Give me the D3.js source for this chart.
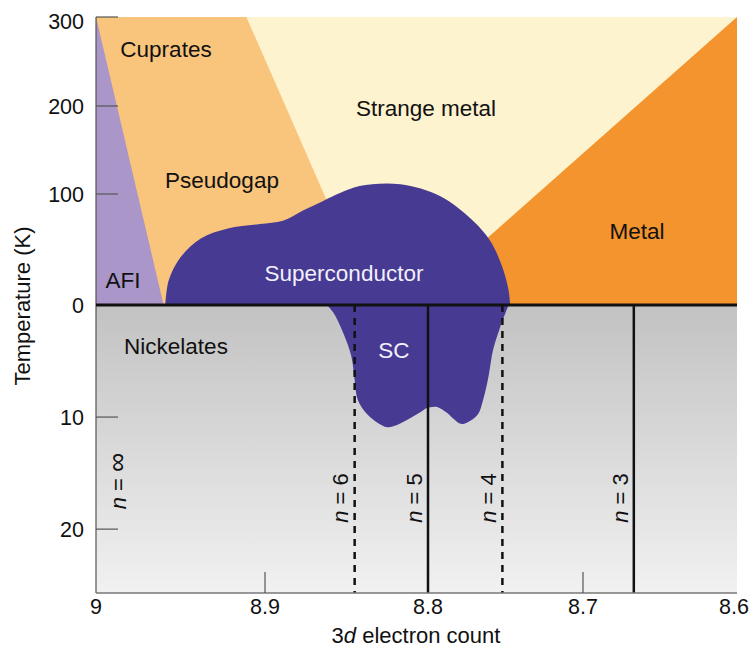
<!DOCTYPE html>
<html>
<head>
<meta charset="utf-8">
<script src="https://cdn.jsdelivr.net/npm/d3@7"></script>
<style>
  html, body { margin: 0; padding: 0; background: #fff; }
  svg { display: block; font-family: "Liberation Sans", Arial, Helvetica, sans-serif; }
</style>
</head>
<body>
<svg id="chart" width="750" height="657"></svg>
<script>
// ---- data ----
// 3d electron count ticks (axis runs from 9 on the left to 8.6 on the right)
const electronTicks = [9, 8.9, 8.8, 8.7, 8.6];
// Temperature ticks: cuprates above the zero line, nickelates below it
const cuprateTempTicks = [0, 100, 200, 300];
const nickelateTempTicks = [10, 20];

// Cuprate phase boundaries [electron count, T (K)]
const afiBoundary = [[9, 300], [8.960, 0]];
const pseudogapBoundary = [[8.911, 300], [8.834, 0]];
const metalBoundary = [[8.6, 300], [8.810, 0]];

// Cuprate superconducting dome outline [electron count, Tc (K)]
const cuprateDome = [
  [8.959, 0], [8.957, 22], [8.950, 43], [8.938, 60], [8.922, 69], [8.903, 73],
  [8.889, 76], [8.877, 85], [8.864, 94], [8.854, 101], [8.842, 109], [8.817, 111],
  [8.792, 98], [8.771, 76], [8.760, 58], [8.752, 34], [8.748, 13], [8.747, 0]
];

// Nickelate superconducting region outline [electron count, Tc (K)]
const nickelateSC = [
  [8.748, 0], [8.7535, 2.0], [8.758, 4.0], [8.761, 6.4], [8.7645, 8.5], [8.768, 9.8],
  [8.775, 10.5], [8.779, 10.6], [8.784, 10.1], [8.788, 9.6], [8.794, 9.1], [8.797, 9.1],
  [8.8006, 9.2], [8.805, 9.6], [8.811, 10.1], [8.819, 10.7], [8.825, 10.9], [8.831, 10.5],
  [8.837, 9.8], [8.843, 8.5], [8.845, 6.7], [8.847, 4.6], [8.852, 2.5], [8.858, 0.7],
  [8.862, 0]
];

// Ruddlesden-Popper layer number n and its electron count
const layerNames = ["\u221E", "6", "5", "4", "3"];
const layerCounts = [9, 8.845, 8.8, 8.752, 8.667];
const layerDashed = [false, true, false, true, false];

// ---- layout ----
const svg = d3.select("#chart");
const plotLeft = 96, plotRight = 737, plotTop = 17, zeroY = 305, plotBottom = 593;
const nickMax = 25.7;

const x = d3.scaleLinear().domain(electronTicks).range([plotLeft, 265, 428, 583, plotRight]);
const yUp = d3.scaleLinear().domain(cuprateTempTicks).range([zeroY, 194, 106, plotTop]);
const yDown = d3.scaleLinear().domain([0, nickMax]).range([zeroY, plotBottom]);

const colors = {
  afi: "#aa96c8",
  pseudogap: "#f9c47c",
  strange: "#fdf3cf",
  metal: "#f4942e",
  sc: "#463a93"
};

// gradient for the nickelate half
const defs = svg.append("defs");
const grad = defs.append("linearGradient").attr("id", "nickGrad")
  .attr("x1", 0).attr("y1", 0).attr("x2", 0).attr("y2", 1);
grad.append("stop").attr("offset", "0%").attr("stop-color", "#c2c2c2");
grad.append("stop").attr("offset", "100%").attr("stop-color", "#f1f1f1");

// ---- cuprate half ----
svg.append("rect")
  .attr("x", x(9)).attr("y", yUp(300))
  .attr("width", x(8.6) - x(9)).attr("height", yUp(0) - yUp(300))
  .attr("fill", colors.strange);

const poly = pts => "M" + pts.map(([a, t]) => [x(a), yUp(t)].join(",")).join("L") + "Z";

// pseudogap / cuprates wedge
svg.append("path")
  .attr("d", poly([[9, 300], pseudogapBoundary[0], pseudogapBoundary[1], [9, 0]]))
  .attr("fill", colors.pseudogap);
// antiferromagnetic insulator
svg.append("path")
  .attr("d", poly([afiBoundary[0], afiBoundary[1], [9, 0]]))
  .attr("fill", colors.afi);
// metal
svg.append("path")
  .attr("d", poly([metalBoundary[0], [8.6, 0], metalBoundary[1]]))
  .attr("fill", colors.metal);

// ---- nickelate half ----
svg.append("rect")
  .attr("x", x(9)).attr("y", yDown(0))
  .attr("width", x(8.6) - x(9)).attr("height", yDown(nickMax) - yDown(0))
  .attr("fill", "url(#nickGrad)");

// superconducting regions
const domeLine = d3.line().x(d => x(d[0])).y(d => yUp(d[1])).curve(d3.curveCatmullRom.alpha(0.5));
const nickLine = d3.line().x(d => x(d[0])).y(d => yDown(d[1])).curve(d3.curveCatmullRom.alpha(0.5));
svg.append("path").attr("d", domeLine(cuprateDome) + "Z").attr("fill", colors.sc);
svg.append("path").attr("d", nickLine(nickelateSC) + "Z").attr("fill", colors.sc);

// n lines
layerCounts.forEach((c, i) => {
  if (c === 9) return;
  svg.append("line")
    .attr("x1", x(c)).attr("x2", x(c))
    .attr("y1", yDown(0)).attr("y2", yDown(nickMax))
    .attr("stroke", "#111").attr("stroke-width", 2.5)
    .attr("stroke-dasharray", layerDashed[i] ? "7,6" : null);
});

// n labels
layerCounts.forEach((c, i) => {
  const lx = c === 9 ? x(c) + 22 : x(c) - 14;
  const ly = c === 9 ? 481 : 498;
  const t = svg.append("text")
    .attr("transform", `translate(${lx},${ly}) rotate(-90)`)
    .attr("text-anchor", "middle").attr("dy", "0.35em")
    .attr("font-size", 22).attr("fill", "#111");
  t.append("tspan").attr("font-style", "italic").text("n");
  t.append("tspan").text(" = ");
  t.append("tspan").attr("font-size", c === 9 ? 27 : 22).text(layerNames[i]);
});

// ---- axes ----
svg.append("line").attr("x1", plotLeft).attr("x2", plotLeft).attr("y1", plotTop).attr("y2", plotBottom)
  .attr("stroke", "#555").attr("stroke-width", 1.2);
svg.append("line").attr("x1", plotLeft).attr("x2", plotRight).attr("y1", plotBottom).attr("y2", plotBottom)
  .attr("stroke", "#777").attr("stroke-width", 1.6);

// zero line
svg.append("line").attr("x1", plotLeft).attr("x2", plotRight).attr("y1", zeroY).attr("y2", zeroY)
  .attr("stroke", "#111").attr("stroke-width", 3);

// left ticks (inward) and labels
const tickLen = 22;
const leftTicks = cuprateTempTicks.filter(t => t > 0).map(t => ({ v: t, y: yUp(t) }))
  .concat(nickelateTempTicks.map(t => ({ v: t, y: yDown(t) })));
svg.selectAll(".ytick").data(leftTicks).join("line")
  .attr("x1", plotLeft).attr("x2", plotLeft + tickLen)
  .attr("y1", d => d.y).attr("y2", d => d.y)
  .attr("stroke", "#555").attr("stroke-width", 1.2);

const yLabels = cuprateTempTicks.map(t => ({ v: t, y: yUp(t) + (t === 300 ? 4 : 0) }))
  .concat(nickelateTempTicks.map(t => ({ v: t, y: yDown(t) })));
svg.selectAll(".ylab").data(yLabels).join("text")
  .attr("x", 84).attr("y", d => d.y).attr("dy", "0.35em")
  .attr("text-anchor", "end").attr("font-size", 21.5).attr("fill", "#111")
  .text(d => d.v);

// bottom ticks (inward) and labels
svg.selectAll(".xtick").data([8.9, 8.7]).join("line")
  .attr("x1", d => x(d)).attr("x2", d => x(d))
  .attr("y1", plotBottom).attr("y2", plotBottom - 21)
  .attr("stroke", "#555").attr("stroke-width", 1.2);
svg.selectAll(".xlab").data(electronTicks).join("text")
  .attr("x", d => d === 8.6 ? 749 : x(d)).attr("y", 614)
  .attr("text-anchor", d => d === 8.6 ? "end" : "middle")
  .attr("font-size", 21.5).attr("fill", "#111")
  .text(d => d);

// axis titles
const xt = svg.append("text").attr("x", 416).attr("y", 643)
  .attr("text-anchor", "middle").attr("font-size", 22).attr("fill", "#111");
xt.append("tspan").text("3");
xt.append("tspan").attr("font-style", "italic").text("d");
xt.append("tspan").text(" electron count");

svg.append("text")
  .attr("transform", `translate(30,306) rotate(-90)`)
  .attr("text-anchor", "middle").attr("font-size", 22).attr("fill", "#111")
  .text("Temperature (K)");

// ---- region labels ----
const regionLabels = [
  { text: "Cuprates", cx: 166, by: 57, fill: "#111" },
  { text: "Strange metal", cx: 426, by: 116, fill: "#111" },
  { text: "Pseudogap", cx: 222, by: 188, fill: "#111" },
  { text: "Metal", cx: 637, by: 239, fill: "#111" },
  { text: "AFI", cx: 123, by: 288, fill: "#111" },
  { text: "Superconductor", cx: 344, by: 281, fill: "#f2f0fa" },
  { text: "SC", cx: 394, by: 358, fill: "#f2f0fa" },
  { text: "Nickelates", cx: 176, by: 354, fill: "#111" }
];
svg.selectAll(".region").data(regionLabels).join("text")
  .attr("x", d => d.cx).attr("y", d => d.by)
  .attr("text-anchor", "middle").attr("font-size", 22.5)
  .attr("fill", d => d.fill)
  .text(d => d.text);
</script>
</body>
</html>
